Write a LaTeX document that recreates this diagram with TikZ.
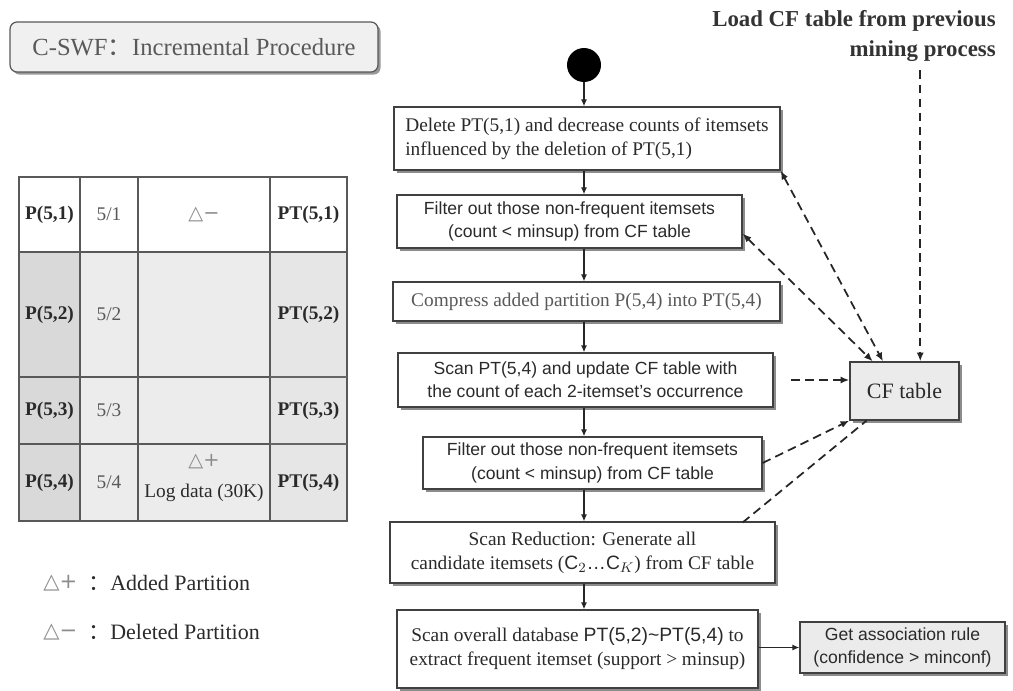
\documentclass[tikz,border=0pt]{standalone}
\usepackage{fontspec}
\setmainfont{Liberation Serif}
\setsansfont{Liberation Sans}
\newfontfamily\symfont{DejaVu Sans}
\newfontfamily\cjk{Noto Sans CJK SC}
\usepackage{tikz}
\usetikzlibrary{arrows.meta,shadows}

\definecolor{inkgray}{HTML}{2A2A2A}
\definecolor{cellA}{HTML}{D9D9D9}
\definecolor{cellB}{HTML}{ECECEC}
\definecolor{cellC}{HTML}{E6E6E6}

\tikzset{
  stepbox/.style={draw=black!75, fill=white, line width=0.7pt, align=center,
    inner sep=2pt, text=inkgray,
    drop shadow={shadow xshift=1.6pt, shadow yshift=-1.6pt, fill=black!45, opacity=1}},
  serifbox/.style={stepbox, font=\fontsize{11}{13.7}\selectfont},
  sansbox/.style={stepbox, font=\sffamily\fontsize{10}{13.2}\selectfont},
  flow/.style={-{Latex[length=4pt,width=3.5pt]}, line width=0.9pt, black!85},
  link/.style={dash pattern=on 5pt off 3pt, line width=1pt, black!85},
  cell/.style={inner sep=0pt, text=inkgray, font=\fontsize{11}{13}\selectfont},
  pcell/.style={cell, font=\bfseries\fontsize{11}{13}\selectfont},
  symtxt/.style={inner sep=0pt, text=black!45, font=\symfont\fontsize{11}{13}\selectfont},
  gridline/.style={draw=black!65, line width=0.6pt}
}

\begin{document}
\begin{tikzpicture}[x=0.02cm,y=-0.02cm]
\useasboundingbox (0,0) rectangle (1013,690);

% title
\node[draw=black!65, fill=black!6, rounded corners=4pt, line width=0.7pt,
  minimum width=7.36cm, minimum height=1cm, text=black!65,
  font=\fontsize{14}{16}\selectfont,
  drop shadow={shadow xshift=1.5pt, shadow yshift=-1.5pt, fill=black!40, opacity=1}]
  (title) at (194,47) {C-SWF{\cjk ：}Incremental Procedure};

% partition table
\fill[white] (19,177) rectangle (347,252);
\fill[cellA] (19,252) rectangle (80,521);
\fill[cellB] (80,252) rectangle (270,521);
\fill[cellC] (270,252) rectangle (347,521);
\draw[gridline] (19,177) rectangle (347,521);
\draw[gridline] (80,177) -- (80,521) (138,177) -- (138,521) (270,177) -- (270,521);
\draw[gridline] (19,252) -- (347,252) (19,377) -- (347,377) (19,444) -- (347,444);
\draw[line width=1.6pt, black!60] (270,377) -- (347,377) (270,444) -- (347,444);

\foreach \y/\i in {214.5/1,314.5/2,410.5/3,482.5/4} {
  \node[pcell] (p\i) at (49.5,\y) {P(5,\i)};
  \node[cell, text=black!65] (n\i) at (109,\y) {5/\i};
  \node[pcell] (pt\i) at (308.5,\y) {PT(5,\i)};
}
\node[symtxt] (dminus) at (204,214.5) {△−};
\node[symtxt] (dplus) at (204,461) {△+};
\node[cell] (logdata) at (204,493) {Log data (30K)};

% legend
\node[symtxt, anchor=west, font=\symfont\fontsize{12}{14}\selectfont] (lgplus) at (43,583) {△+};
\node[cell, anchor=west, font=\fontsize{12.5}{14}\selectfont] (lgadd) at (88,583) {{\cjk ：}Added Partition};
\node[symtxt, anchor=west, font=\symfont\fontsize{12}{14}\selectfont] (lgminus) at (43,632) {△−};
\node[cell, anchor=west, font=\fontsize{12.5}{14}\selectfont] (lgdel) at (88,632) {{\cjk ：}Deleted Partition};

% flow
\node[circle, fill=black, minimum size=0.68cm, inner sep=0pt] (start) at (584,65) {};
\node[serifbox, align=left, minimum width=7.72cm, minimum height=1.26cm] (b1) at (587,138.5)
  {Delete PT(5,1) and decrease counts of itemsets\\influenced by the deletion of PT(5,1)};
\node[sansbox, minimum width=6.9cm, minimum height=1.06cm] (b2) at (569.5,221.5)
  {Filter out those non-frequent itemsets\\(count < minsup) from CF table};
\node[serifbox, minimum width=7.74cm, minimum height=0.78cm, text=black!65] (b3) at (586.5,301.5)
  {Compress added partition P(5,4) into PT(5,4)};
\node[sansbox, minimum width=7.5cm, minimum height=1.08cm] (b4) at (585.5,380)
  {Scan PT(5,4) and update CF table with\\the count of each 2-itemset's occurrence};
\node[sansbox, minimum width=6.78cm, minimum height=1.04cm] (b5) at (592.5,463)
  {Filter out those non-frequent itemsets\\(count < minsup) from CF table};
\node[serifbox, minimum width=7.7cm, minimum height=1.22cm] (b6) at (582.5,552.5)
  {Scan Reduction: Generate all\\candidate itemsets (\textsf{C}$_2$\textsf{\ldots C}$_K$) from CF table};
\node[serifbox, minimum width=7.22cm, minimum height=1.56cm] (b7) at (577.5,649)
  {Scan overall database \textsf{PT(5,2)\textasciitilde PT(5,4)} to\\extract frequent itemset (support > minsup)};
\node[sansbox, fill=black!8, minimum width=4.1cm, minimum height=1.02cm] (b8) at (902.5,647.5)
  {Get association rule\\(confidence > minconf)};
\node[serifbox, fill=black!8, font=\fontsize{12.5}{14}\selectfont, minimum width=2.18cm, minimum height=1.16cm] (cf) at (904.5,391) {CF table};
\node[anchor=north east, align=right, inner sep=0pt, text=black!80,
  font=\bfseries\fontsize{13}{17}\selectfont] (load) at (996,10)
  {Load CF table from previous\\mining process};

\draw[flow] (start) -- (b1.north -| start);
\draw[flow] (b1.south -| start) -- (b2.north -| start);
\draw[flow] (b2.south -| start) -- (b3.north -| start);
\draw[flow] (b3.south -| start) -- (b4.north -| start);
\draw[flow] (b4.south -| start) -- (b5.north -| start);
\draw[flow] (b5.south -| start) -- (b6.north -| start);
\draw[flow] (b6.south -| start) -- (b7.north -| start);
\draw[flow] (b8.west -| b7.east) -- (b8.west);

\draw[link, {Latex[length=5pt,width=4pt]}-{Latex[length=5pt,width=4pt]}] (b1.south east) -- (cf.126);
\draw[link, {Latex[length=5pt,width=4pt]}-{Latex[length=5pt,width=4pt]}] (b2.-4) -- (cf.137);
\draw[link, -{Latex[length=5pt,width=4pt]}, shorten <=10pt] (b4.east) -- (cf.west |- b4.east);
\draw[link, -{Latex[length=5pt,width=4pt]}] (b5.east) -- (cf.south west);
\draw[link, shorten <=-1pt] ([xshift=-18pt]b6.north east) -- (cf.218);
\draw[link, -{Latex[length=5pt,width=4pt]}, shorten <=5pt] (cf.62 |- load.south) -- (cf.62);
\end{tikzpicture}
\end{document}
